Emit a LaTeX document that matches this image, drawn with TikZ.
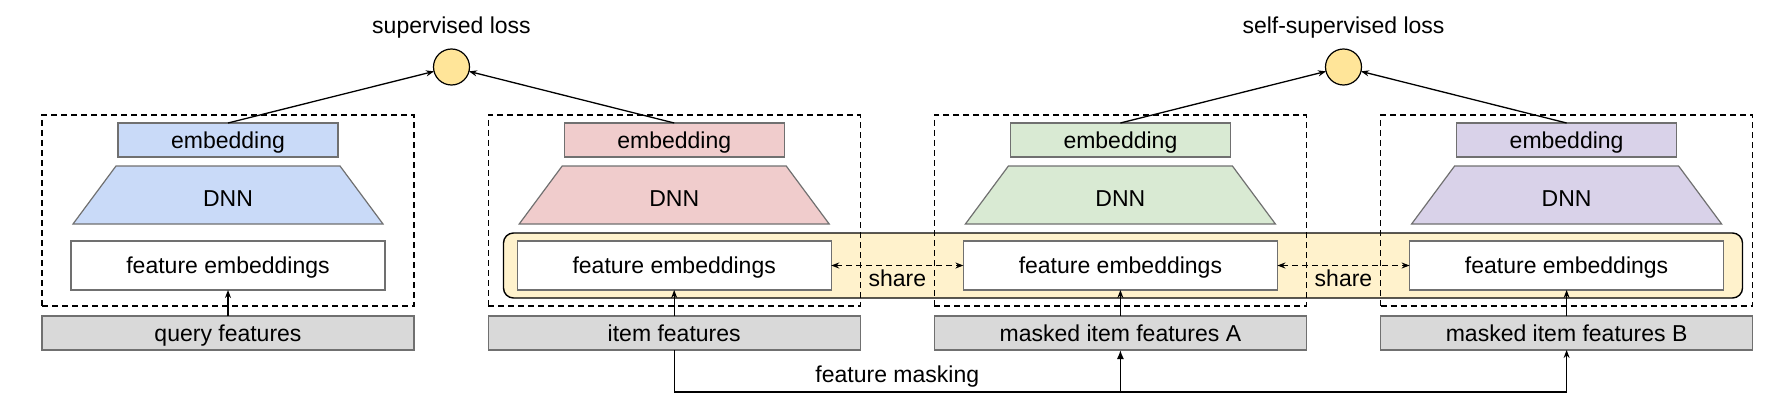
\documentclass[tikz,border=0pt]{standalone}
\usepackage{fontspec}
\setmainfont{Liberation Sans}
\usetikzlibrary{positioning,arrows.meta}

\definecolor{boxgray}{HTML}{707070}
\definecolor{qryblue}{HTML}{C9DAF8}
\definecolor{itmred}{HTML}{F0CCCC}
\definecolor{mskgreen}{HTML}{D9EAD3}
\definecolor{mskpurple}{HTML}{D9D2E9}
\definecolor{inpgray}{HTML}{D9D9D9}
\definecolor{shryellow}{HTML}{FFF2CC}
\definecolor{lossyellow}{HTML}{FFE599}

\tikzset{
  tower/.style={draw=black, dash pattern=on 6pt off 4pt, line width=1.3pt,
    minimum width=372pt, minimum height=191pt, inner sep=0pt, outer sep=0pt},
  boxtext/.style={text height=16.5pt, text depth=0pt, inner sep=0pt, outer sep=0pt},
  embbox/.style={boxtext, draw=boxgray, line width=1.2pt, minimum width=220pt,
    minimum height=34pt},
  dnnshape/.style={draw=boxgray, line width=1.2pt},
  febox/.style={boxtext, draw=boxgray, fill=white, line width=1.2pt,
    minimum width=314pt, minimum height=49pt},
  inbox/.style={boxtext, draw=boxgray, fill=inpgray, line width=1.2pt,
    minimum width=372pt, minimum height=34pt},
  sharebox/.style={draw=black, fill=shryellow, line width=1.4pt, rounded corners=10pt,
    minimum width=1239pt, minimum height=65pt, inner sep=0pt, outer sep=0pt},
  lossnode/.style={circle, draw=black, fill=lossyellow, line width=1.2pt,
    minimum size=36pt, inner sep=0pt, outer sep=0pt},
}

\begin{document}
\begin{tikzpicture}[x=1pt, y=-1pt, line width=1.3pt,
  font=\fontsize{23}{27}\selectfont, >={Stealth[length=8pt,width=6pt]}]
\useasboundingbox (0,0) rectangle (1788,420);

% shared feature embeddings
\node[sharebox] (shr) at (1123,265.5) {};

% the four towers
\foreach \i/\col/\inp in {1/qryblue/query features, 2/itmred/item features,
    3/mskgreen/masked item features A, 4/mskpurple/masked item features B}{
  \pgfmathsetmacro{\cx}{228+446.2*(\i-1)}
  \node[tower] (grp\i) at (\cx,210.5) {};
  \node[embbox, fill=\col] (emb\i) at (\cx,140) {embedding};
  \draw[dnnshape, fill=\col] (\cx-112,166) -- (\cx+112,166)
    -- (\cx+155,224) -- (\cx-155,224) -- cycle;
  \node[boxtext] (dnn\i) at (\cx,198) {DNN};
  \node[febox] (fe\i) at (\cx,265.5) {feature embeddings};
  \node[inbox] (in\i) at (\cx,333) {\inp};
  \draw[->] (in\i) -- (fe\i);
}

% losses
\node[lossnode] (loss1) at (451.5,67) {};
\node[lossnode] (loss2) at (1343.5,67) {};
\node[above=10pt of loss1, inner sep=0pt] (lbl1) {supervised loss};
\node[above=10pt of loss2, inner sep=0pt] (lbl2) {self-supervised loss};
\draw[->] (emb1.north) -- (loss1);
\draw[->] (emb2.north) -- (loss1);
\draw[->] (emb3.north) -- (loss2);
\draw[->] (emb4.north) -- (loss2);

% weight sharing
\draw[<->, dash pattern=on 6pt off 4pt] (fe2) -- node[below=4pt, inner sep=0pt] {share} (fe3);
\draw[<->, dash pattern=on 6pt off 4pt] (fe3) -- node[below=4pt, inner sep=0pt] {share} (fe4);

% feature masking
\coordinate (mskL) at (in2.south |- 0,392);
\coordinate (mskR) at (in4.south |- 0,392);
\draw[->] (in2.south) -- (mskL) -- (mskR) -- (in4.south);
\draw[-{Latex[length=9pt,width=7pt]}] (in3.south |- mskL) -- (in3.south);
\path (mskL) -- node[above=4pt, inner sep=0pt] {feature masking} (in3.south |- mskL);

\end{tikzpicture}
\end{document}
